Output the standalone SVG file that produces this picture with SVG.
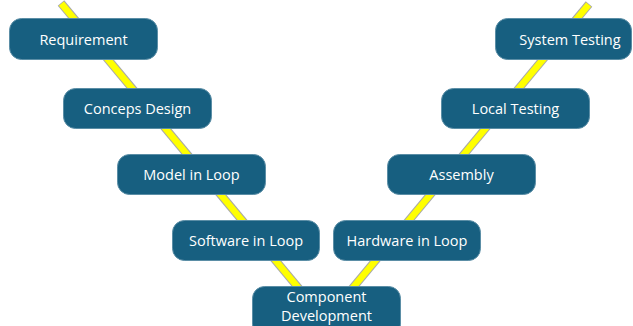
<svg xmlns="http://www.w3.org/2000/svg" width="633" height="326" viewBox="0 0 633 326">
<style>
.edge-o{stroke:#a8a8a8;stroke-width:8.5;fill:none;stroke-linecap:butt}
.edge-i{stroke:#ffff00;stroke-width:6.5;fill:none;stroke-linecap:butt}
.box{fill:#175f80;stroke:#5b8ea6;stroke-width:1}
.lbl{fill:#ffffff;font-family:"Open Sans","Liberation Sans",sans-serif;font-size:14.5px;text-anchor:middle}
</style>
<rect width="633" height="326" fill="#ffffff"/>
<g id="connectors">
<line class="edge-o" x1="61" y1="3" x2="306" y2="297"/>
<line class="edge-i" x1="61.4" y1="3.6" x2="306" y2="297"/>
<line class="edge-o" x1="589" y1="4" x2="341" y2="302"/>
<line class="edge-i" x1="588.6" y1="4.6" x2="341" y2="302"/>
</g>
<g id="requirement"><rect class="box" x="9.5" y="18.5" width="148" height="41" rx="12"/><text class="lbl" x="83.5" y="44.5">Requirement</text></g>
<g id="conceps-design"><rect class="box" x="63.5" y="88.5" width="148" height="40" rx="12"/><text class="lbl" x="137.5" y="113.5">Conceps Design</text></g>
<g id="model-in-loop"><rect class="box" x="117.5" y="154.5" width="148" height="40" rx="12"/><text class="lbl" x="191.5" y="179.5">Model in Loop</text></g>
<g id="software-in-loop"><rect class="box" x="172.5" y="220.5" width="147" height="40" rx="12"/><text class="lbl" x="246" y="245.5">Software in Loop</text></g>
<g id="component-development"><rect class="box" x="252.5" y="286.5" width="148" height="50" rx="12"/><text class="lbl" x="326.5" y="302">Component</text><text class="lbl" x="326.5" y="321">Development</text></g>
<g id="hardware-in-loop"><rect class="box" x="333.5" y="220.5" width="147" height="40" rx="12"/><text class="lbl" x="407" y="245.5">Hardware in Loop</text></g>
<g id="assembly"><rect class="box" x="387.5" y="154.5" width="148" height="40" rx="12"/><text class="lbl" x="461.5" y="179.5">Assembly</text></g>
<g id="local-testing"><rect class="box" x="441.5" y="88.5" width="148" height="40" rx="12"/><text class="lbl" x="515.5" y="113.5">Local Testing</text></g>
<g id="system-testing"><rect class="box" x="495.5" y="18.5" width="136" height="41" rx="12"/><text class="lbl" x="570" y="44.5">System Testing</text></g>
</svg>
